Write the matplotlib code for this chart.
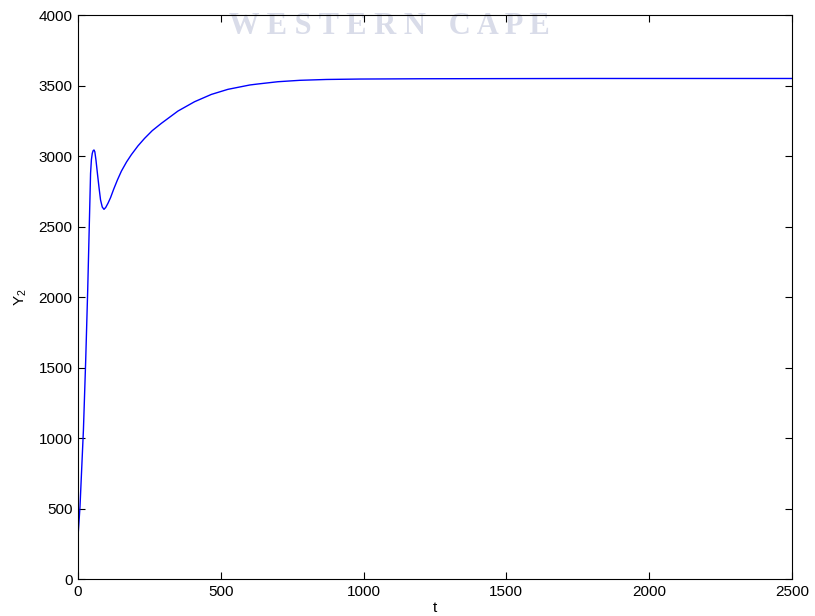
import matplotlib

matplotlib.use("Agg")
import matplotlib.pyplot as plt

# values
t = [0, 7, 19, 27, 34, 40, 44, 47, 50, 53, 56, 59, 63, 68, 74, 79, 85, 91, 97,
     105, 114, 125, 138, 152, 170, 187, 210, 233, 260, 292, 350, 408, 467, 525,
     602, 630, 700, 777, 870, 987, 1200, 1478, 1800, 2200, 2500]
y2 = [300, 513, 1057, 1553, 2050, 2546, 2877, 2975, 3019, 3038, 3043, 3030,
      2970, 2877, 2770, 2688, 2638, 2622, 2635, 2665, 2705, 2765, 2830, 2893,
      2958, 3010, 3072, 3125, 3180, 3232, 3319, 3385, 3437, 3473, 3504, 3511,
      3527, 3537, 3543, 3546, 3548, 3549, 3550, 3550, 3550]

xticks = [0, 500, 1000, 1500, 2000, 2500]
yticks = [0, 500, 1000, 1500, 2000, 2500, 3000, 3500, 4000]

plt.rcParams["font.family"] = ["Liberation Sans", "DejaVu Sans"]

fig = plt.figure(figsize=(8.15, 6.16), dpi=100)
ax = fig.add_axes([0.0957, 0.06, 0.876, 0.9156])
ax.set_facecolor("none")

fig.text(0.478, 0.957, "W E S T E R N   C A P E", ha="center", va="center",
         family="Liberation Serif", fontweight="bold", fontsize=22,
         color="#d9dce9", zorder=-1)

ax.plot(t, y2, color="#0000ff", linewidth=1.0)

ax.set_xlim(0, 2500)
ax.set_ylim(0, 4000)
ax.set_xticks(xticks)
ax.set_yticks(yticks)
ax.tick_params(direction="in", top=True, right=True, length=5, width=0.8,
               labelsize=11, pad=4)
for spine in ax.spines.values():
    spine.set_linewidth(0.8)

ax.set_xlabel("t", fontsize=11, labelpad=2)
ax.set_ylabel("$\\mathregular{Y_2}$", fontsize=11, labelpad=7)

fig.savefig("out.png", dpi=100)
